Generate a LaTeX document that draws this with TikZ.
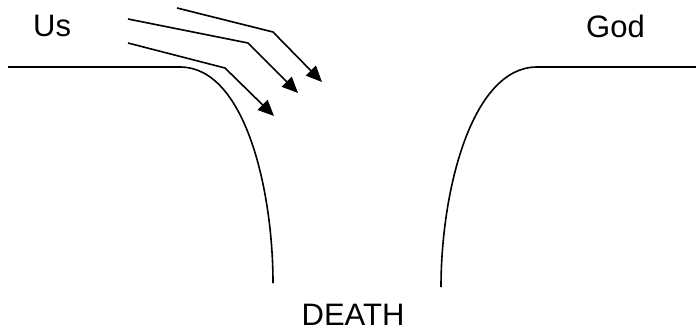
\documentclass[tikz,border=0pt]{standalone}
\usepackage{fontspec}
\setmainfont{Liberation Sans}
\usetikzlibrary{arrows.meta}
\begin{document}
\begin{tikzpicture}[x=1pt,y=-1pt,
  lbl/.style={inner sep=0pt,font=\fontsize{31}{37}\selectfont},
  cliff/.style={line width=1.6pt},
  flow/.style={line width=1.6pt,-{Triangle[length=16pt,width=14pt]}}]
\useasboundingbox (0,0) rectangle (696,333);
\node[lbl,anchor=base west] (us) at (33,36) {Us};
\node[lbl,anchor=base west] (god) at (586,37) {God};
\node[lbl,anchor=base] (death) at (353,325) {DEATH};
% cliffs
\draw[cliff] (8,67) -- (180,67) .. controls (245,67) and (273,190) .. (273,283);
\draw[cliff] (696,67) -- (537,67) .. controls (472,67) and (441,190) .. (441,287);
% arrows
\coordinate (a1s) at (177,8);  \coordinate (a1b) at (273,32);  \coordinate (a1e) at (322,82);
\coordinate (a2s) at (128,19); \coordinate (a2b) at (248,43);  \coordinate (a2e) at (298,93);
\coordinate (a3s) at (128,43); \coordinate (a3b) at (225,68);  \coordinate (a3e) at (274,116);
\draw[flow] (a1s) -- (a1b) -- (a1e);
\draw[flow] (a2s) -- (a2b) -- (a2e);
\draw[flow] (a3s) -- (a3b) -- (a3e);
\end{tikzpicture}
\end{document}
